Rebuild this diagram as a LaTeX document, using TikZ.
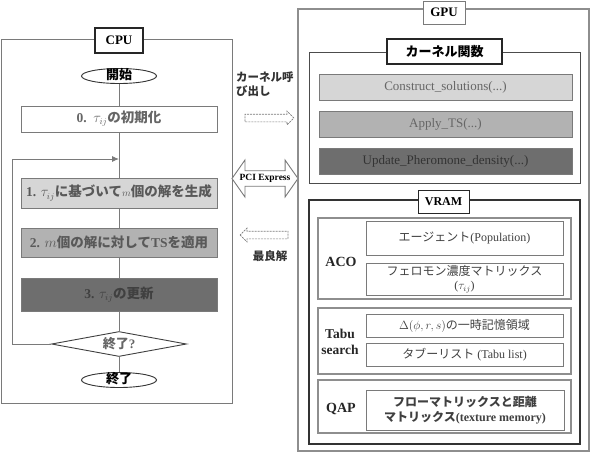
\documentclass[tikz,border=0pt]{standalone}
\usepackage{fontspec}
\setmainfont{Liberation Serif}
\newfontfamily\jp{Noto Sans CJK JP}
\usetikzlibrary{shapes.geometric,shapes.arrows,arrows.meta}
\newcommand{\J}[1]{{\jp #1}}
\newcommand{\tij}{$\tau_{ij}$}
\definecolor{fillA}{HTML}{D6D6D6}
\definecolor{fillB}{HTML}{B2B2B2}
\definecolor{fillC}{HTML}{6E6E6E}
\definecolor{lineG}{HTML}{7A7A7A}
\begin{document}
\begin{tikzpicture}[x=1pt,y=-1pt,
  every node/.style={inner sep=0pt},
  frame/.style={draw=lineG, line width=0.8pt, rectangle},
  dframe/.style={draw=lineG!85, line width=1.4pt, rectangle},
  lab/.style={draw=black!85, line width=1.3pt, fill=white, rectangle, font=\fontsize{13}{15}\selectfont\bfseries},
  stepbox/.style={draw=lineG, line width=0.9pt, rectangle, minimum width=196pt, text=black!60, font=\fontsize{13.5}{16}\selectfont\bfseries},
  kbox/.style={draw=lineG, line width=0.9pt, rectangle, minimum width=253pt, minimum height=26pt, text=black!60, font=\fontsize{13}{15}\selectfont},
  vbox/.style={draw=lineG, line width=0.9pt, rectangle, minimum width=197pt, align=center, text=black!75, font=\fontsize{12}{14}\selectfont},
  grp/.style={font=\fontsize{14}{15}\selectfont\bfseries, text=black!85, align=center},
  term/.style={ellipse, draw=black!80, line width=0.9pt, fill=white, minimum width=75pt, minimum height=15pt, text height=7pt, text depth=1pt, font=\fontsize{13}{15}\selectfont\bfseries\jp},
  conn/.style={draw=lineG, line width=0.9pt},
  midtxt/.style={font=\fontsize{11.5}{14}\selectfont\bfseries\jp, text=black!80, align=left},
  darrow/.style={single arrow, draw=lineG, dashed, dash pattern=on 2pt off 1pt, line width=0.7pt, minimum height=49pt, minimum width=13pt, inner ysep=3.5pt, inner xsep=0pt, single arrow head extend=3pt}
]
\useasboundingbox (0,0) rectangle (597,453);

% ---------------- CPU side ----------------
\node[frame, minimum width=231pt, minimum height=364pt] (cpu) at (116.5,221) {};
\node[lab, minimum width=48pt, minimum height=25pt] (cpulab) at (119,40.5) {CPU};

\node[term] (start) at (119,76) {開始};
\node[stepbox, fill=white, minimum height=26pt] (s0) at (119,119) {0.\ \ \tij\J{の初期化}};
\node[stepbox, fill=fillA, minimum height=30pt, text=black!65] (s1) at (119,193) {1. \tij\J{に基づいて}{\fontsize{10}{12}\selectfont$m$}\J{個の解を生成}};
\node[stepbox, fill=fillB, minimum height=29pt, text=black!65] (s2) at (119,242.5) {2. {$m$}\J{個の解に対して}TS\J{を適用}};
\node[stepbox, fill=fillC, minimum height=33pt, text=black!75] (s3) at (119,294.5) {3. \tij\J{の更新}};
\node[diamond, draw=black!75, line width=0.9pt, fill=white, aspect=5.4, minimum width=135pt, minimum height=25pt, font=\fontsize{13}{15}\selectfont\bfseries, text=black!60] (dec) at (119,344) {\J{終了}?};
\node[term] (stop) at (119,380) {終了};

\coordinate (join) at (119,159);
\coordinate (lp1) at (12,344);
\coordinate (lp2) at (12,159);

\draw[conn] (start.south) -- (s0.north);
\draw[conn] (s0.south) -- (s1.north);
\draw[conn] (s1.south) -- (s2.north);
\draw[conn] (s2.south) -- (s3.north);
\draw[conn] (s3.south) -- (dec.north);
\draw[conn] (dec.south) -- (stop.north);
\draw[conn, -{Latex[length=7pt,width=6pt]}] (dec.west) -- (lp1) -- (lp2) -- (join);

% ---------------- middle ----------------
\node[midtxt, anchor=north west] (call) at (236,72) {カーネル呼\\び出し};
\node[darrow] (toGPU) at (267.5,118) {};
\node[double arrow, draw=lineG, line width=0.9pt, fill=white, minimum height=66pt, minimum width=37pt, double arrow head extend=10.5pt, double arrow tip angle=110, inner xsep=1pt, inner ysep=3pt, font=\fontsize{9.5}{11}\selectfont\bfseries] (pci) at (265,178.5) {PCI Express};
\node[darrow, minimum height=48pt, shape border rotate=180] (toCPU) at (266,235) {};
\node[midtxt] (best) at (270,256) {最良解};

% ---------------- GPU side ----------------
\node[dframe, minimum width=291pt, minimum height=442pt] (gpu) at (443.5,230) {};
\node[lab, line width=1pt, draw=lineG, minimum width=42pt, minimum height=23pt] (gpulab) at (444,12.5) {GPU};

\node[frame, draw=black!70, line width=1pt, minimum width=271pt, minimum height=131pt] (kern) at (444.5,117.5) {};
\node[lab, minimum width=115pt, minimum height=25pt, font=\fontsize{13}{15}\selectfont\bfseries\jp] (kernlab) at (444.5,51.5) {カーネル関数};
\node[kbox, fill=fillA] (k1) at (445.5,87) {Construct\_solutions(...)};
\node[kbox, fill=fillB] (k2) at (445.5,124) {Apply\_TS(...)};
\node[kbox, fill=fillC, text=black!80] (k3) at (445.5,161) {Update\_Pheromone\_density(...)};

\node[frame, draw=black!80, line width=1.1pt, minimum width=271pt, minimum height=244pt] (vram) at (444.5,322) {};
\node[lab, line width=1pt, minimum width=51pt, minimum height=23pt, font=\fontsize{12}{14}\selectfont\bfseries] (vramlab) at (443.5,201.5) {VRAM};

% ACO group
\node[dframe, minimum width=253pt, minimum height=81pt] (aco) at (444.5,258.5) {};
\node[vbox, minimum height=34pt] (agent) at (464.5,238) {\J{エージェント}(Population)};
\node[vbox, minimum height=32pt] (phero) at (464.5,279) {\J{フェロモン濃度マトリックス}\\(\tij)};
\node[grp] (acolab) at (341,262) {ACO};

% Tabu group
\node[dframe, minimum width=253pt, minimum height=66pt] (tabu) at (444.5,341) {};
\node[vbox, minimum height=23pt] (delta) at (464.5,325.5) {{\itshape$\Delta(\phi,r,s)$}\J{の一時記憶領域}};
\node[vbox, minimum height=23pt] (tlist) at (464.5,354.5) {\J{タブーリスト} (Tabu list)};
\node[grp, font=\fontsize{13.5}{16}\selectfont\bfseries] (tabulab) at (340,342) {Tabu\\search};

% QAP group
\node[dframe, minimum width=253pt, minimum height=53pt] (qap) at (444.5,406.5) {};
\node[vbox, minimum width=198pt, minimum height=40pt, font=\fontsize{12}{15}\selectfont\bfseries] (flow) at (465,410) {\J{フローマトリックスと距離}\\\J{マトリックス}(texture memory)};
\node[grp] (qaplab) at (341,409) {QAP};
\end{tikzpicture}
\end{document}
